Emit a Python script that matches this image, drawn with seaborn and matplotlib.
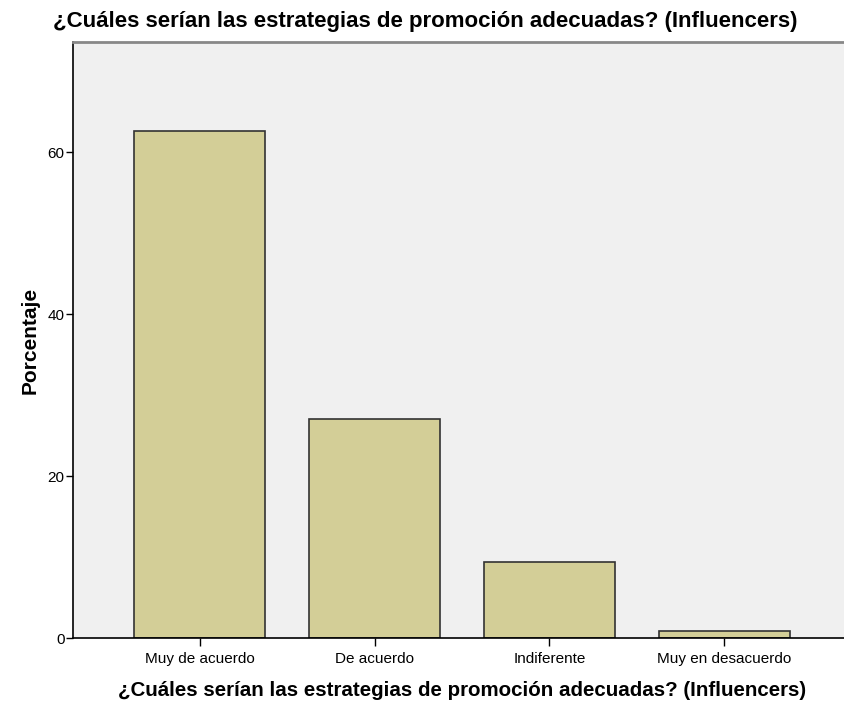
import matplotlib
matplotlib.use("Agg")
import matplotlib.pyplot as plt
import seaborn as sns
import pandas as pd

# Data
categories = ["Muy de acuerdo", "De acuerdo", "Indiferente", "Muy en desacuerdo"]
percentages = [62.6, 27.1, 9.4, 0.9]
y_ticks = [0, 20, 40, 60]

title = "¿Cuáles serían las estrategias de promoción adecuadas? (Influencers)"

sns.set_style("white")
plt.rcParams["font.family"] = ["Liberation Sans", "DejaVu Sans"]
plt.rcParams["text.color"] = "black"
plt.rcParams["axes.labelcolor"] = "black"

df = pd.DataFrame({"cat": categories, "pct": percentages})

fig = plt.figure(figsize=(8.45, 7.06), dpi=100)
ax = fig.add_axes([0.0864, 0.0963, 0.9207, 0.8442])
ax.set_facecolor("#F0F0F0")

sns.barplot(data=df, x="cat", y="pct", ax=ax, color="#D3CE97",
            edgecolor="#333333", linewidth=1.2, width=0.75, saturation=1)

ax.set_xlim(-0.723, 3.723)
ax.set_ylim(0, 73.6)
ax.set_yticks(y_ticks)
ax.tick_params(axis="both", direction="out", length=5, width=1, colors="black",
               labelsize=11, left=True, bottom=True)
ax.tick_params(axis="x", length=6, pad=4)
ax.tick_params(axis="y", pad=1)

for side in ["left", "bottom"]:
    ax.spines[side].set_color("black")
    ax.spines[side].set_linewidth(1.2)
ax.spines["top"].set_color("#888888")
ax.spines["top"].set_linewidth(2)
ax.spines["right"].set_visible(False)

ax.set_xlabel(title, fontsize=14.8, fontweight="bold", labelpad=11)
ax.set_ylabel("Porcentaje", fontsize=15, fontweight="bold", labelpad=6)
fig.text(0.503, 0.969, title, fontsize=16, fontweight="bold", ha="center", va="center")

fig.savefig("out.png", dpi=100)
